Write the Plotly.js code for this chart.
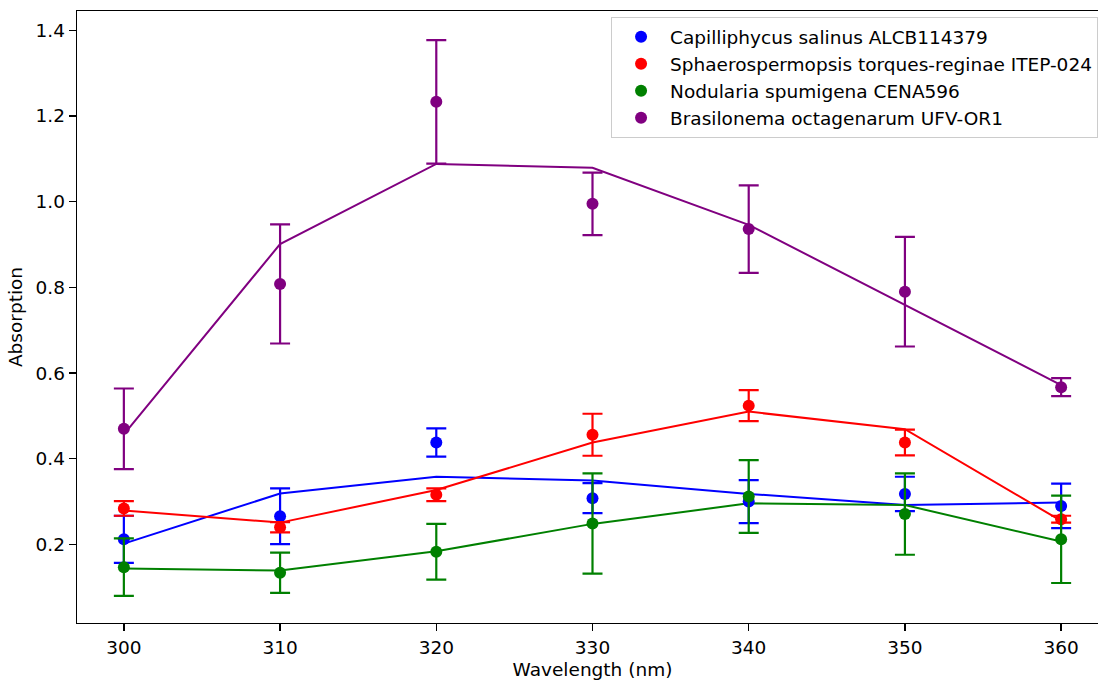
<!DOCTYPE html>
<html>
<head>
<meta charset="utf-8">
<script src="https://cdn.plot.ly/plotly-3.0.1.min.js"></script>
<style>
  html, body { margin: 0; padding: 0; background: #fff; overflow: hidden; }
  #chart { width: 1121px; height: 680px; }
</style>
</head>
<body>
<div id="chart"></div>
<script>
// Wavelengths (nm)
const wavelengths = [300, 310, 320, 330, 340, 350, 360];

// Series names
const names = [
  "Capilliphycus salinus ALCB114379",
  "Sphaerospermopsis torques-reginae ITEP-024",
  "Nodularia spumigena CENA596",
  "Brasilonema octagenarum UFV-OR1"
];

// Measured mean absorption (points)
const capMean  = [0.212, 0.266, 0.438, 0.308, 0.300, 0.318, 0.290];
const sphMean  = [0.284, 0.240, 0.316, 0.456, 0.524, 0.438, 0.259];
const nodMean  = [0.147, 0.134, 0.183, 0.249, 0.312, 0.271, 0.212];
const braMean  = [0.470, 0.808, 1.233, 0.995, 0.936, 0.790, 0.567];

// Standard deviations (error bars)
const capErr = [0.055, 0.065, 0.033, 0.035, 0.050, 0.040, 0.052];
const sphErr = [0.017, 0.012, 0.015, 0.049, 0.036, 0.030, 0.008];
const nodErr = [0.067, 0.047, 0.065, 0.117, 0.085, 0.095, 0.102];
const braErr = [0.094, 0.139, 0.144, 0.073, 0.102, 0.128, 0.021];

// Fitted / trend lines
const capLine = [0.202, 0.319, 0.358, 0.349, 0.318, 0.292, 0.298];
const sphLine = [0.279, 0.251, 0.327, 0.438, 0.510, 0.469, 0.255];
const nodLine = [0.144, 0.139, 0.184, 0.248, 0.296, 0.292, 0.207];
const braLine = [0.457, 0.901, 1.088, 1.079, 0.946, 0.759, 0.572];

const colors = ["#0000ff", "#ff0000", "#008000", "#800080"];
const means = [capMean, sphMean, nodMean, braMean];
const errs = [capErr, sphErr, nodErr, braErr];
const lines = [capLine, sphLine, nodLine, braLine];

const traces = [];
for (let i = 0; i < 4; i++) {
  traces.push({
    x: wavelengths, y: lines[i], type: "scatter", mode: "lines",
    line: { color: colors[i], width: 2 },
    showlegend: false, hoverinfo: "skip"
  });
}
for (let i = 0; i < 4; i++) {
  traces.push({
    x: wavelengths, y: means[i], type: "scatter", mode: "markers",
    name: names[i],
    marker: { color: colors[i], size: 12 },
    error_y: { type: "data", array: errs[i], visible: true, color: colors[i], thickness: 2.2, width: 10 }
  });
}

const font = { family: "DejaVu Sans, sans-serif", size: 18.5, color: "#000" };

const layout = {
  width: 1121, height: 680,
  margin: { l: 77, r: 13, t: 11, b: 57 },
  paper_bgcolor: "#fff", plot_bgcolor: "#fff",
  font: font,
  showlegend: true,
  legend: {
    x: 0.518, y: 0.99, xanchor: "left", yanchor: "top",
    itemwidth: 48,
    bgcolor: "rgba(255,255,255,0.8)", bordercolor: "#cccccc", borderwidth: 1,
    font: font
  },
  xaxis: {
    range: [297, 363], tickvals: wavelengths,
    showgrid: false, zeroline: false,
    showline: true, mirror: true, linecolor: "#000", linewidth: 1.3,
    ticks: "outside", ticklen: 7, tickwidth: 1.3, tickcolor: "#000",
    title: { text: "Wavelength (nm)", font: font, standoff: 6 }
  },
  yaxis: {
    range: [0.0167, 1.445], tickvals: [0.2, 0.4, 0.6, 0.8, 1.0, 1.2, 1.4],
    ticktext: ["0.2", "0.4", "0.6", "0.8", "1.0", "1.2", "1.4"],
    showgrid: false, zeroline: false,
    showline: true, mirror: true, linecolor: "#000", linewidth: 1.3,
    ticks: "outside", ticklen: 7, tickwidth: 1.3, tickcolor: "#000",
    title: { text: "Absorption", font: font, standoff: 8 }
  }
};

Plotly.newPlot("chart", traces, layout, { displayModeBar: false, staticPlot: true });
</script>
</body>
</html>
